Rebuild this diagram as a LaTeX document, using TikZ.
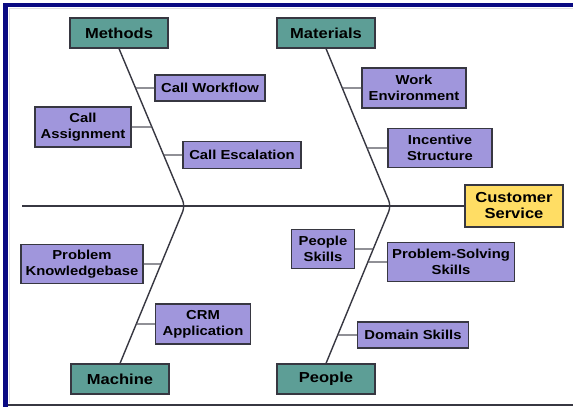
\documentclass[tikz,border=0pt]{standalone}
\usepackage{fontspec}
\setmainfont{Liberation Sans}
\newfontfamily\fishfont{Liberation Sans}[FakeStretch=1.14]
\definecolor{navyframe}{RGB}{10,10,130}
\definecolor{catfill}{RGB}{93,158,150}
\definecolor{causefill}{RGB}{160,150,220}
\definecolor{effectfill}{RGB}{255,221,100}
\definecolor{boneline}{RGB}{55,55,65}
\begin{document}
\begin{tikzpicture}[x=1pt,y=-1pt,
  cat/.style={draw=boneline, line width=1.2pt, fill=catfill, minimum width=98pt, minimum height=30pt, inner sep=0pt, font=\fishfont\bfseries\fontsize{14.5}{16}\selectfont},
  cause/.style={draw=boneline, line width=1.2pt, fill=causefill, inner sep=0pt, align=center, font=\fishfont\bfseries\fontsize{13}{16}\selectfont},
  bone/.style={draw=boneline, line width=1.4pt, rounded corners=6pt},
  twig/.style={draw=boneline!85, line width=1.1pt}]
\useasboundingbox (0,0) rectangle (573,407);
\fill[white] (0,0) rectangle (573,407);
\fill[navyframe] (3,3) rectangle (8,407);
\fill[navyframe] (3,3) rectangle (573,7);
\draw[boneline, line width=2pt] (8,405) -- (573,405);
\draw[black!12, line width=1pt] (9,8) -- (9,403);
\draw[black!12, line width=1pt] (9,8) -- (573,8);

\node[cat] (methods) at (119,33) {Methods};
\node[cat] (materials) at (326,33) {Materials};
\node[cat] (machine) at (120,379) {Machine};
\node[cat] (people) at (326,379) {People};
\node[draw=boneline, line width=1.2pt, fill=effectfill, minimum width=98pt, minimum height=42pt, inner sep=0pt, align=center, font=\fishfont\bfseries\fontsize{14.5}{16}\selectfont] (effect) at (514,206) {Customer\\Service};

\node[cause, minimum width=110pt, minimum height=26pt] (workflow) at (210,88) {Call Workflow};
\node[cause, minimum width=96pt, minimum height=40pt] (assign) at (83,127) {Call\\Assignment};
\node[cause, minimum width=118pt, minimum height=27pt] (escal) at (242,155) {Call Escalation};
\node[cause, minimum width=104pt, minimum height=40pt] (workenv) at (414,88) {Work\\Environment};
\node[cause, minimum width=104pt, minimum height=39pt] (incent) at (440,148) {Incentive\\Structure};
\node[cause, minimum width=122pt, minimum height=39pt] (knowledge) at (82,264) {Problem\\Knowledgebase};
\node[cause, minimum width=95pt, minimum height=40pt] (crm) at (203,324) {CRM\\Application};
\node[cause, minimum width=63pt, minimum height=39pt] (pskills) at (323,249) {People\\Skills};
\node[cause, minimum width=127pt, minimum height=39pt] (solving) at (451,262) {Problem-Solving\\Skills};
\node[cause, minimum width=111pt, minimum height=26pt] (domain) at (413,335) {Domain Skills};

\coordinate (tail) at (22,206);
\coordinate (jleft) at (185,206);
\coordinate (jright) at (391,206);

\draw[boneline, line width=1.4pt] (tail) -- (effect.west);
\draw[bone] (methods.south) -- (jleft) -- (machine.north);
\draw[bone] (materials.south) -- (jright) -- (people.north);

\draw[twig] (workflow.west) -- (intersection of methods.south--jleft and workflow.west--workflow.east);
\draw[twig] (assign.east) -- (intersection of methods.south--jleft and assign.west--assign.east);
\draw[twig] (escal.west) -- (intersection of methods.south--jleft and escal.west--escal.east);
\draw[twig] (workenv.west) -- (intersection of materials.south--jright and workenv.west--workenv.east);
\draw[twig] (incent.west) -- (intersection of materials.south--jright and incent.west--incent.east);
\draw[twig] (knowledge.east) -- (intersection of machine.north--jleft and knowledge.west--knowledge.east);
\draw[twig] (crm.west) -- (intersection of machine.north--jleft and crm.west--crm.east);
\draw[twig] (pskills.east) -- (intersection of people.north--jright and pskills.west--pskills.east);
\draw[twig] (solving.west) -- (intersection of people.north--jright and solving.west--solving.east);
\draw[twig] (domain.west) -- (intersection of people.north--jright and domain.west--domain.east);
\end{tikzpicture}
\end{document}
